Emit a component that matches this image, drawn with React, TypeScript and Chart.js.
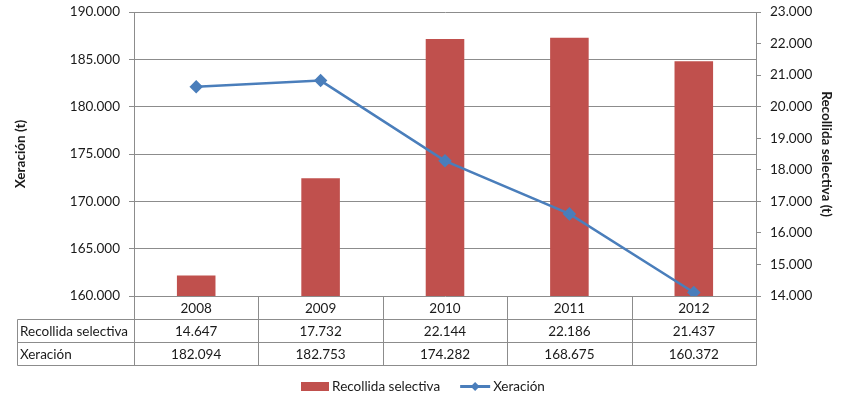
import React, { useEffect, useRef } from "react";
import { Chart, registerables } from "chart.js";

Chart.register(...registerables);

const years = ["2008", "2009", "2010", "2011", "2012"];
const recollida = [14647, 17732, 22144, 22186, 21437];
const xeracion = [182094, 182753, 174282, 168675, 160372];
const recollidaLabel = "Recollida selectiva";
const xeracionLabel = "Xeración";
const leftTitle = "Xeración (t)";
const rightTitle = "Recollida selectiva (t)";

const RED = "#C0504D";
const BLUE = "#4A7EBB";
const GRID = "#8C8C8C";
const TEXT = "#1a1a1a";
const FONT = "Lato, 'Open Sans', sans-serif";
const FS = 13.5;

const fmt = (v: number) =>
  String(Math.round(v)).replace(/\B(?=(\d{3})+(?!\d))/g, ".");

const tablePlugin = {
  id: "dataTableLegend",
  afterDraw(chart: any) {
    const { ctx, chartArea } = chart;
    const { left, right, bottom } = chartArea;
    const xs = chart.scales.x;
    const n = years.length;
    const centers = years.map((_, i) => xs.getPixelForValue(i));
    const bounds: number[] = [left];
    for (let i = 0; i < n - 1; i++) bounds.push((centers[i] + centers[i + 1]) / 2);
    bounds.push(right);
    const rowH = 23;
    const y0 = Math.round(bottom);
    const y1 = y0 + rowH;
    const y2 = y1 + rowH;
    const y3 = y2 + rowH;
    const labelLeft = left - 117;
    const p = (v: number) => Math.round(v) + 0.5;

    ctx.save();
    ctx.strokeStyle = GRID;
    ctx.lineWidth = 1;
    const line = (ax: number, ay: number, bx: number, by: number) => {
      ctx.beginPath();
      ctx.moveTo(p(ax), p(ay));
      ctx.lineTo(p(bx), p(by));
      ctx.stroke();
    };
    line(labelLeft, y1, right, y1);
    line(labelLeft, y2, right, y2);
    line(labelLeft, y3, right, y3);
    line(labelLeft, y1, labelLeft, y3);
    bounds.forEach((b) => line(b, y0, b, y3));

    ctx.fillStyle = TEXT;
    ctx.font = `${FS}px ${FONT}`;
    ctx.textBaseline = "middle";
    ctx.textAlign = "center";
    years.forEach((yr, i) => ctx.fillText(yr, centers[i], (y0 + y1) / 2 + 1));
    recollida.forEach((v, i) => ctx.fillText(fmt(v), centers[i], (y1 + y2) / 2 + 1));
    xeracion.forEach((v, i) => ctx.fillText(fmt(v), centers[i], (y2 + y3) / 2 + 1));
    ctx.textAlign = "left";
    ctx.fillText(recollidaLabel, labelLeft + 3, (y1 + y2) / 2 + 1);
    ctx.fillText(xeracionLabel, labelLeft + 3, (y2 + y3) / 2 + 1);

    // legend
    const ly = y3 + 21;
    const boxW = 28;
    const lineW = 30;
    const gap = 3;
    const itemGap = 20;
    const w1 = ctx.measureText(recollidaLabel).width;
    const w2 = ctx.measureText(xeracionLabel).width;
    const total = boxW + gap + w1 + itemGap + lineW + gap + w2;
    let lx = chart.width / 2 - total / 2;
    ctx.fillStyle = RED;
    ctx.fillRect(Math.round(lx), ly - 4, boxW, 9);
    lx += boxW + gap;
    ctx.fillStyle = TEXT;
    ctx.fillText(recollidaLabel, lx, ly + 1);
    lx += w1 + itemGap;
    ctx.strokeStyle = BLUE;
    ctx.lineWidth = 3;
    ctx.beginPath();
    ctx.moveTo(lx, ly + 0.5);
    ctx.lineTo(lx + lineW, ly + 0.5);
    ctx.stroke();
    const cx = lx + lineW / 2;
    ctx.fillStyle = BLUE;
    ctx.beginPath();
    ctx.moveTo(cx, ly - 4);
    ctx.lineTo(cx + 4.5, ly + 0.5);
    ctx.lineTo(cx, ly + 5);
    ctx.lineTo(cx - 4.5, ly + 0.5);
    ctx.closePath();
    ctx.fill();
    lx += lineW + gap;
    ctx.fillStyle = TEXT;
    ctx.fillText(xeracionLabel, lx, ly + 1);
    ctx.restore();
  },
};

export default function App() {
  const ref = useRef<HTMLCanvasElement | null>(null);
  useEffect(() => {
    document.body.style.margin = "0";
    const canvas = ref.current;
    if (!canvas) return;
    const chart = new Chart(canvas, {
      data: {
        labels: years,
        datasets: [
          {
            type: "line" as const,
            label: xeracionLabel,
            data: xeracion,
            yAxisID: "y",
            borderColor: BLUE,
            backgroundColor: BLUE,
            borderWidth: 2.5,
            pointStyle: "rectRot",
            pointRadius: 5,
            pointBackgroundColor: BLUE,
            pointBorderColor: BLUE,
            tension: 0,
            order: 0,
          },
          {
            type: "bar" as const,
            label: recollidaLabel,
            data: recollida,
            yAxisID: "y1",
            backgroundColor: RED,
            borderWidth: 0,
            categoryPercentage: 1,
            barPercentage: 0.31,
            order: 1,
          },
        ],
      },
      options: {
        animation: false,
        responsive: false,
        maintainAspectRatio: false,
        layout: { padding: { left: 9, right: 8, top: 12, bottom: 0 } },
        plugins: {
          legend: { display: false },
          tooltip: { enabled: false },
        },
        scales: {
          x: {
            type: "category",
            offset: true,
            ticks: { display: false },
            grid: { display: false },
            border: { display: false },
            afterFit: (s: any) => {
              s.height = 108;
            },
          },
          y: {
            position: "left",
            min: 160000,
            max: 190000,
            ticks: {
              stepSize: 5000,
              padding: 9,
              color: TEXT,
              font: { family: FONT, size: FS },
              callback: (v: any) => fmt(Number(v)),
            },
            grid: { color: GRID, tickLength: 5, drawTicks: true },
            border: { display: true, color: GRID },
            title: {
              display: true,
              text: leftTitle,
              color: TEXT,
              font: { family: FONT, size: FS, weight: "bold" },
            },
            afterFit: (s: any) => {
              s.width = 125;
              s.paddingTop = 0;
              s.paddingBottom = 0;
            },
          },
          y1: {
            position: "right",
            min: 14000,
            max: 23000,
            ticks: {
              stepSize: 1000,
              padding: 9,
              color: TEXT,
              font: { family: FONT, size: FS },
              callback: (v: any) => fmt(Number(v)),
            },
            grid: { drawOnChartArea: false, color: GRID, tickLength: 5, drawTicks: true },
            border: { display: true, color: GRID },
            title: {
              display: true,
              text: rightTitle,
              color: TEXT,
              font: { family: FONT, size: FS, weight: "bold" },
            },
            afterFit: (s: any) => {
              s.width = 82;
              s.paddingTop = 0;
              s.paddingBottom = 0;
            },
          },
        },
      },
      plugins: [tablePlugin],
    } as any);
    return () => chart.destroy();
  }, []);
  return (
    <div style={{ width: 846, height: 404, background: "#fff" }}>
      <canvas ref={ref} width={846} height={404} style={{ display: "block" }} />
    </div>
  );
}
